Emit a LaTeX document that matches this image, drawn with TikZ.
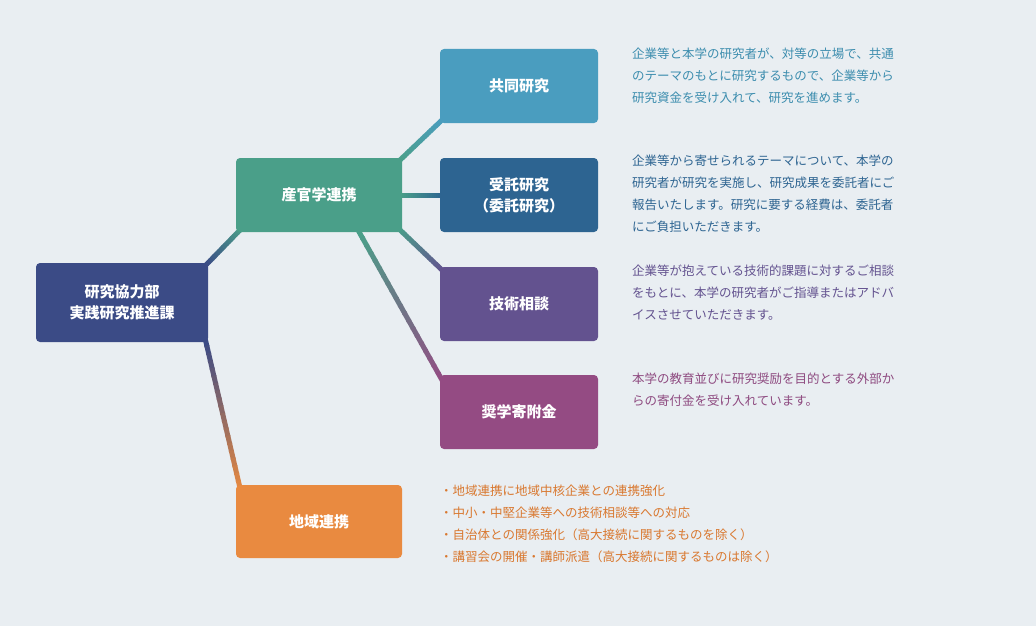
\documentclass[tikz,border=0pt]{standalone}
\usepackage{fontspec}
\setmainfont{Noto Sans CJK JP}
\newfontfamily\jpb{Noto Sans CJK JP}[FakeBold=0]
\usetikzlibrary{calc}
\definecolor{bg}{HTML}{E9EEF2}
\definecolor{cRoot}{HTML}{3B4B86}
\definecolor{cSan}{HTML}{4A9F89}
\definecolor{cChi}{HTML}{E98A40}
\definecolor{cKyo}{HTML}{4A9DBF}
\definecolor{cJu}{HTML}{2D6491}
\definecolor{cGi}{HTML}{63528F}
\definecolor{cSho}{HTML}{944B83}
\definecolor{tKyo}{HTML}{3C8DAE}
\definecolor{tSho}{HTML}{8E4A80}
\definecolor{tChi}{HTML}{D9782F}
\tikzset{x=1pt,y=-1pt,
 box/.style={rounded corners=4pt,text=white,font=\fontsize{15}{21}\selectfont\bfseries,align=center,inner sep=0pt},
 desc/.style={anchor=north west,align=left,inner sep=0pt,font=\fontsize{12.5}{22}\selectfont},
 conn/.style={line width=5pt}}
\newcommand{\gradline}[4]{% from, to, color1, color2
 \foreach \i in {0,...,19}{
  \pgfmathsetmacro\a{\i/20}\pgfmathsetmacro\b{(\i+1)/20+0.01}\pgfmathsetmacro\m{100-\i*5}
  \draw[conn,color=#3!\m!#4] ($(#1)!\a!(#2)$) -- ($(#1)!\b!(#2)$);}}
\begin{document}
\begin{tikzpicture}
\fill[bg] (0,0) rectangle (1036,626);
\useasboundingbox (0,0) rectangle (1036,626);
\coordinate (r1) at (205,266); \coordinate (s1) at (241,229);
\coordinate (r2) at (205,338); \coordinate (c1) at (240,488);
\coordinate (s2) at (398,162); \coordinate (k1) at (442,120);
\coordinate (s3) at (400,195); \coordinate (j1) at (442,195);
\coordinate (s4) at (398,228); \coordinate (g1) at (442,270);
\coordinate (s5) at (358,230); \coordinate (h1) at (442,380);
\gradline{r1}{s1}{cRoot}{cSan}
\gradline{r2}{c1}{cRoot}{cChi}
\gradline{s2}{k1}{cSan}{cKyo}
\gradline{s3}{j1}{cSan}{cJu}
\gradline{s4}{g1}{cSan}{cGi}
\gradline{s5}{h1}{cSan}{cSho}
\node[box,fill=cRoot,minimum width=172pt,minimum height=79pt] (root) at (122,302.5) {研究協力部\\実践研究推進課};
\node[box,fill=cSan,minimum width=166pt,minimum height=74pt] (san) at (319,195) {産官学連携};
\node[box,fill=cChi,minimum width=166pt,minimum height=73pt] (chi) at (319,521.5) {地域連携};
\node[box,fill=cKyo,minimum width=158pt,minimum height=74pt] (kyo) at (519,86) {共同研究};
\node[box,fill=cJu,minimum width=158pt,minimum height=74pt] (ju) at (519,195) {受託研究\\（委託研究）};
\node[box,fill=cGi,minimum width=158pt,minimum height=74pt] (gi) at (519,304) {技術相談};
\node[box,fill=cSho,minimum width=158pt,minimum height=74pt] (sho) at (519,412) {奨学寄附金};
\node[desc,text=tKyo] (d1) at (632,48) {企業等と本学の研究者が、対等の立場で、共通\\のテーマのもとに研究するもので、企業等から\\研究資金を受け入れて、研究を進めます。};
\node[desc,text=cJu] (d2) at (632,155) {企業等から寄せられるテーマについて、本学の\\研究者が研究を実施し、研究成果を委託者にご\\報告いたします。研究に要する経費は、委託者\\にご負担いただきます。};
\node[desc,text=cGi] (d3) at (632,265) {企業等が抱えている技術的課題に対するご相談\\をもとに、本学の研究者がご指導またはアドバ\\イスさせていただきます。};
\node[desc,text=tSho] (d4) at (632,373) {本学の教育並びに研究奨励を目的とする外部か\\らの寄付金を受け入れています。};
\node[desc,text=tChi] (d5) at (440,485) {・地域連携に地域中核企業との連携強化\\・中小・中堅企業等への技術相談等への対応\\・自治体との関係強化（高大接続に関するものを除く）\\・講習会の開催・講師派遣（高大接続に関するものは除く）};
\end{tikzpicture}
\end{document}
